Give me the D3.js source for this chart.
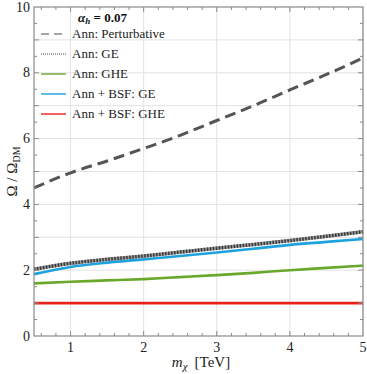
<!DOCTYPE html>
<html>
<head>
<meta charset="utf-8">
<script src="https://cdn.jsdelivr.net/npm/d3@7"></script>
<style>
  body { margin: 0; background: #fff; }
  text, tspan { font-family: "Liberation Serif"; }
</style>
</head>
<body>
<div id="chart"></div>
<script>
const width = 367,
  height = 374,
  margin = { top: 7, right: 4, bottom: 38, left: 34 };

// data
const masses = [0.5, 1, 1.5, 2, 2.5, 3, 3.5, 4, 4.5, 5];
const annPert = [4.5, 4.96, 5.32, 5.7, 6.1, 6.55, 7.0, 7.48, 7.95, 8.45];
const annGE = [2.03, 2.21, 2.33, 2.43, 2.55, 2.67, 2.78, 2.9, 3.03, 3.17];
const annGHE = [1.6, 1.65, 1.69, 1.73, 1.79, 1.85, 1.92, 2.0, 2.07, 2.14];
const bsfGE = [1.88, 2.1, 2.23, 2.33, 2.43, 2.54, 2.65, 2.77, 2.86, 2.95];
const bsfGHE = [1, 1, 1, 1, 1, 1, 1, 1, 1, 1];

const xTicks = [1, 2, 3, 4, 5];
const yTicks = [0, 2, 4, 6, 8, 10];

const series = [
  { name: 'Ann + BSF: GHE', values: bsfGHE, color: '#e8201c', type: 'solid' },
  { name: 'Ann: GHE', values: annGHE, color: '#6aa82c', type: 'solid' },
  { name: 'Ann + BSF: GE', values: bsfGE, color: '#1ea2de', type: 'solid' },
  { name: 'Ann: GE', values: annGE, color: '#555', type: 'dotted' },
  { name: 'Ann: Perturbative', values: annPert, color: '#555', type: 'dashed' }
];
const legendOrder = ['Ann: Perturbative', 'Ann: GE', 'Ann: GHE', 'Ann + BSF: GE', 'Ann + BSF: GHE'];

const svg = d3.select('#chart').
append('svg').
attr('width', width).
attr('height', height).
style('font-family', '"Liberation Serif"');

const x = d3.scaleLinear().domain([0.5, 5]).range([margin.left, width - margin.right]);
const y = d3.scaleLinear().domain([0, 10]).range([height - margin.bottom, margin.top]);

// grid
svg.append('g').
selectAll('line').
data(xTicks).
enter().
append('line').
attr('x1', d => x(d)).attr('x2', d => x(d)).
attr('y1', y(0)).attr('y2', y(10)).
attr('stroke', '#e2e2e2').attr('stroke-width', 1);

svg.append('g').
selectAll('line').
data(d3.range(1, 10)).
enter().
append('line').
attr('x1', x(0.5)).attr('x2', x(5)).
attr('y1', d => y(d)).attr('y2', d => y(d)).
attr('stroke', '#e2e2e2').attr('stroke-width', 1);

// curves
const line = d3.line().
x((d, i) => x(masses[i])).
y(d => y(d)).
curve(d3.curveMonotoneX);

const plot = svg.append('g');
series.forEach(s => {
  if (s.type === 'dotted') {
    plot.append('path').attr('d', line(s.values)).
    attr('fill', 'none').attr('stroke', '#999').attr('stroke-width', 3.5);
    plot.append('path').attr('d', line(s.values)).
    attr('fill', 'none').attr('stroke', '#3a3a3a').attr('stroke-width', 3.5).
    attr('stroke-dasharray', '1.5,1.5');
  } else {
    plot.append('path').attr('d', line(s.values)).
    attr('fill', 'none').
    attr('stroke', s.color).
    attr('stroke-width', s.type === 'dashed' ? 3 : 2.6).
    attr('stroke-dasharray', s.type === 'dashed' ? '11,6' : null);
  }
});

// frame and ticks
const axisColor = '#8a8a8a';
svg.append('rect').
attr('x', x(0.5)).attr('y', y(10)).
attr('width', x(5) - x(0.5)).attr('height', y(0) - y(10)).
attr('fill', 'none').attr('stroke', axisColor).attr('stroke-width', 1.2);

const xMinor = d3.range(0.6, 5.0, 0.2);
const yMinor = d3.range(0.5, 10, 0.5);
const ticks = svg.append('g').attr('stroke', axisColor).attr('stroke-width', 1);
xMinor.forEach(v => {
  const major = Math.abs(v - Math.round(v)) < 1e-6;
  const len = major ? 5 : 3;
  ticks.append('line').attr('x1', x(v)).attr('x2', x(v)).attr('y1', y(0)).attr('y2', y(0) - len);
  ticks.append('line').attr('x1', x(v)).attr('x2', x(v)).attr('y1', y(10)).attr('y2', y(10) + len);
});
yMinor.forEach(v => {
  const major = Math.abs(v - Math.round(v)) < 1e-6;
  const len = major ? 5 : 3;
  ticks.append('line').attr('y1', y(v)).attr('y2', y(v)).attr('x1', x(0.5)).attr('x2', x(0.5) + len);
  ticks.append('line').attr('y1', y(v)).attr('y2', y(v)).attr('x1', x(5)).attr('x2', x(5) - len);
});

// tick labels
svg.append('g').
selectAll('text').
data(xTicks).
enter().
append('text').
attr('x', d => x(d)).
attr('y', y(0) + 16).
attr('text-anchor', 'middle').
attr('font-size', 14).
attr('fill', '#222').
text(d => d);

svg.append('g').
selectAll('text').
data(yTicks).
enter().
append('text').
attr('x', x(0.5) - 4).
attr('y', d => y(d) + 4.5).
attr('text-anchor', 'end').
attr('font-size', 14).
attr('fill', '#222').
text(d => d);

// axis titles
const xTitle = svg.append('text').
attr('x', 201).
attr('y', 367).
attr('text-anchor', 'middle').
attr('font-size', 15).
attr('fill', '#222');
xTitle.append('tspan').attr('font-style', 'italic').text('m');
xTitle.append('tspan').attr('font-style', 'italic').attr('font-size', 11).attr('dy', 3).text('χ');
xTitle.append('tspan').attr('dy', -3).attr('dx', 7).text('[TeV]');

const yTitle = svg.append('text').
attr('transform', `translate(17,${(y(0) + y(10)) / 2}) rotate(-90)`).
attr('text-anchor', 'middle').
attr('font-size', 15).
attr('fill', '#222');
yTitle.append('tspan').text('Ω / Ω');
yTitle.append('tspan').attr('font-size', 10).attr('dy', 3).text('DM');

// legend
const legend = svg.append('g').attr('transform', 'translate(40,0)');
const legTitle = legend.append('text').
attr('x', 38).attr('y', 22).
attr('font-size', 13).
attr('font-weight', 'bold').
attr('fill', '#111');
legTitle.append('tspan').attr('font-style', 'italic').text('α');
legTitle.append('tspan').attr('font-style', 'italic').attr('font-size', 9).attr('dy', 2).text('h');
legTitle.append('tspan').attr('dy', -2).text(' = 0.07');

legendOrder.forEach((name, i) => {
  const s = series.find(d => d.name === name);
  const yy = 34 + i * 20;
  const g = legend.append('g');
  if (s.type === 'dotted') {
    g.append('line').attr('x1', 1).attr('x2', 26).attr('y1', yy).attr('y2', yy).
    attr('stroke', '#444').attr('stroke-width', 1).attr('stroke-dasharray', '1,1');
  } else {
    g.append('line').attr('x1', 1).attr('x2', 26).attr('y1', yy).attr('y2', yy).
    attr('stroke', s.type === 'dashed' ? '#888' : s.color).
    attr('stroke-width', s.type === 'dashed' ? 1.6 : 1.4).
    attr('stroke-dasharray', s.type === 'dashed' ? '8,5' : null);
  }
  g.append('text').attr('x', 32).attr('y', yy + 4).
  attr('font-size', 13).attr('fill', '#222').text(name);
});
</script>
</body>
</html>
